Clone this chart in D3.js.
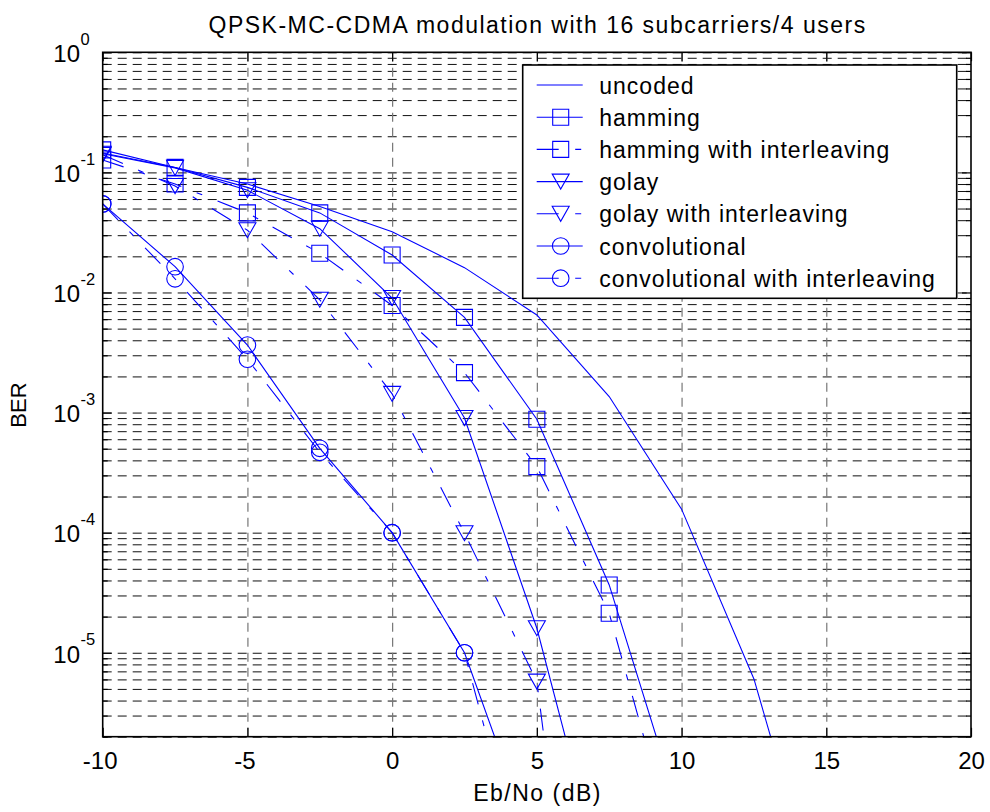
<!DOCTYPE html>
<html>
<head>
<meta charset="utf-8">
<script src="https://cdn.jsdelivr.net/npm/d3@7"></script>
<style>
  body { margin: 0; background: #fff; }
  svg { display: block; }
</style>
</head>
<body>
<div id="chart"></div>
<script>
// Chart data (BER)
const ebno = [-10, -7.5, -5, -2.5, 0, 2.5, 5, 7.5, 10, 12.5, 15];
const berUncoded    = [0.145, 0.11, 0.08, 0.052, 0.032, 0.0161, 0.0065, 0.00136, 1.57e-4, 6.05e-6, 5e-8];
const berHamming    = [0.154, 0.110, 0.075, 0.046, 0.0205, 0.0062, 8.8e-4, 3.67e-5, 4.2e-7];
const berHammingInt = [0.127, 0.080, 0.046, 0.0212, 0.0078, 0.00215, 3.55e-4, 2.13e-5, 1.5e-7];
const berGolay      = [0.143, 0.109, 0.071, 0.034, 0.0090, 9.0e-4, 1.6e-5, 8e-8];
const berGolayInt   = [0.140, 0.077, 0.033, 0.0087, 0.00143, 9.9e-5, 5.75e-6, 1.2e-10];
const berConv       = [0.0546, 0.0164, 3.65e-3, 5.04e-4, 1.0e-4, 1.0e-5, 2.1e-7];
const berConvInt    = [0.0546, 0.0130, 2.78e-3, 4.67e-4, 1.0e-4, 1.0e-5, 5.4e-8];

const seriesNames = ["uncoded", "hamming", "hamming with interleaving", "golay",
  "golay with interleaving", "convolutional", "convolutional with interleaving"];
const seriesMarkers = ["none", "square", "square", "triangle", "triangle", "circle", "circle"];
const seriesInterleaved = [false, false, true, false, true, false, true];

const xTicks = [-10, -5, 0, 5, 10, 15, 20];
const yExponents = [0, -1, -2, -3, -4, -5];
const yMinorMultipliers = [2, 3, 4, 5, 6, 7, 8, 9];

const titleText = "QPSK-MC-CDMA modulation with 16 subcarriers/4 users";
const xLabel = "Eb/No (dB)";
const yLabel = "BER";

const width = 990, height = 812;
const margin = {top: 52.3, right: 19, bottom: 75.3, left: 102.7};
const innerWidth = width - margin.left - margin.right;
const innerHeight = height - margin.top - margin.bottom;
const blue = "#0000ff";
const fontFamily = "'Liberation Sans', Arial, Helvetica, sans-serif";

const berSeries = [berUncoded, berHamming, berHammingInt, berGolay, berGolayInt, berConv, berConvInt];
const series = berSeries.map((vals, i) => ({
  name: seriesNames[i],
  marker: seriesMarkers[i],
  interleaved: seriesInterleaved[i],
  points: vals.map((v, j) => ({x: ebno[j], y: v}))
}));

/*****************************/
/*    Scales and containers  */
/*****************************/
const xScale = d3.scaleLinear().domain([-10, 20]).range([0, innerWidth]);
const yScale = d3.scaleLog().domain([2e-6, 1]).range([innerHeight, 0]);

const yMajor = yExponents.map(e => Math.pow(10, e));
const yMinor = [];
yExponents.concat([-6]).forEach(e => {
  yMinorMultipliers.forEach(m => {
    const v = m * Math.pow(10, e);
    if (v >= 2e-6 && v < 1) yMinor.push(v);
  });
});

const svg = d3.select("#chart")
  .append("svg")
    .attr("width", width)
    .attr("height", height)
    .attr("font-family", fontFamily);

svg.append("rect")
  .attr("width", width)
  .attr("height", height)
  .attr("fill", "#fff");

const innerChart = svg.append("g")
  .attr("transform", `translate(${margin.left}, ${margin.top})`);

svg.append("defs")
  .append("clipPath")
    .attr("id", "plot-clip")
  .append("rect")
    .attr("width", innerWidth)
    .attr("height", innerHeight);

// Stretch a text to the spacing seen in the original figure
const spaceOut = (sel, extra) => {
  sel.each(function() {
    const n = this.getNumberOfChars();
    const len = this.getComputedTextLength();
    d3.select(this)
      .attr("textLength", len + extra * (n - 1))
      .attr("lengthAdjust", "spacing");
  });
};

/***********************/
/*      Grid lines     */
/***********************/
const yGrid = innerChart.append("g")
  .attr("class", "grid-y")
  .call(d3.axisLeft(yScale).tickValues(yMajor.concat(yMinor)).tickSize(-innerWidth).tickFormat(""));
yGrid.select(".domain").remove();
yGrid.selectAll("text").remove();
yGrid.selectAll("line")
  .attr("stroke", "#111")
  .attr("stroke-width", 1)
  .attr("stroke-dasharray", "9,6");

const xGrid = innerChart.append("g")
  .attr("class", "grid-x")
  .attr("transform", `translate(0, ${innerHeight})`)
  .call(d3.axisBottom(xScale).tickValues(xTicks.slice(1, -1)).tickSize(-innerHeight).tickFormat(""));
xGrid.select(".domain").remove();
xGrid.selectAll("text").remove();
xGrid.selectAll("line")
  .attr("stroke", "#777")
  .attr("stroke-width", 1.2)
  .attr("stroke-dasharray", "9,6");

/***********************/
/*     Data curves     */
/***********************/
const lineGenerator = d3.line()
  .x(d => xScale(d.x))
  .y(d => yScale(d.y));

const markerPath = (type) => {
  switch (type) {
    case "square":
      return "M-8,-8H8V8H-8Z";
    case "triangle":
      return "M-8.5,-7.5L8.5,-7.5L0,7.5Z";
    case "circle":
      return "M8.3,0A8.3,8.3 0 1,1 -8.3,0A8.3,8.3 0 1,1 8.3,0Z";
    default:
      return null;
  }
};

const plot = innerChart.append("g")
  .attr("clip-path", "url(#plot-clip)");

series.forEach(s => {
  plot.append("path")
    .datum(s.points)
    .attr("d", lineGenerator)
    .attr("fill", "none")
    .attr("stroke", blue)
    .attr("stroke-width", 1.1)
    .attr("stroke-dasharray", s.interleaved ? "22,16.5,6,16.5" : null);

  if (s.marker !== "none") {
    plot.selectAll(null)
      .data(s.points.filter(d => d.y >= 2e-6))
      .join("path")
        .attr("transform", d => `translate(${xScale(d.x)}, ${yScale(d.y)})`)
        .attr("d", markerPath(s.marker))
        .attr("fill", "none")
        .attr("stroke", blue)
        .attr("stroke-width", 1.1);
  }
});

/***********************/
/*        Axes         */
/***********************/
const bottomAxis = innerChart.append("g")
  .attr("transform", `translate(0, ${innerHeight})`)
  .call(d3.axisBottom(xScale).tickValues(xTicks).tickSizeInner(-9).tickSizeOuter(0).tickPadding(15).tickFormat(d => String(d)));
const topAxis = innerChart.append("g")
  .call(d3.axisTop(xScale).tickValues(xTicks).tickSizeInner(-9).tickSizeOuter(0).tickFormat(""));

const leftMajor = innerChart.append("g")
  .call(d3.axisLeft(yScale).tickValues(yMajor).tickSizeInner(-9).tickSizeOuter(0).tickFormat(""));
const leftMinor = innerChart.append("g")
  .call(d3.axisLeft(yScale).tickValues(yMinor).tickSizeInner(-5).tickSizeOuter(0).tickFormat(""));
const rightMajor = innerChart.append("g")
  .attr("transform", `translate(${innerWidth}, 0)`)
  .call(d3.axisRight(yScale).tickValues(yMajor).tickSizeInner(-9).tickSizeOuter(0).tickFormat(""));
const rightMinor = innerChart.append("g")
  .attr("transform", `translate(${innerWidth}, 0)`)
  .call(d3.axisRight(yScale).tickValues(yMinor).tickSizeInner(-5).tickSizeOuter(0).tickFormat(""));

[bottomAxis, topAxis, leftMajor, leftMinor, rightMajor, rightMinor].forEach(ax => {
  ax.select(".domain").remove();
  ax.selectAll("line").attr("stroke", "#000").attr("stroke-width", 1.2);
  ax.attr("font-family", fontFamily).attr("font-size", 24);
});
[topAxis, leftMajor, leftMinor, rightMajor, rightMinor].forEach(ax => ax.selectAll("text").remove());
// negative labels sit a little left of their tick in the original
bottomAxis.selectAll("text")
  .attr("fill", "#000")
  .attr("dx", d => d < 0 ? -3 : 0);

// Log tick labels as 10 with a superscript exponent
const yLabels = innerChart.append("g")
  .attr("class", "y-tick-labels")
  .attr("font-size", 24)
  .attr("fill", "#000");
yExponents.forEach(e => {
  const yPos = yScale(Math.pow(10, e));
  yLabels.append("text")
    .attr("x", -22.7)
    .attr("y", yPos + 9.8)
    .attr("text-anchor", "end")
    .text("10");
  yLabels.append("text")
    .attr("x", -22.2)
    .attr("y", yPos - 7.5)
    .attr("font-size", 16.5)
    .text(e);
});

// Axes box
innerChart.append("rect")
  .attr("width", innerWidth)
  .attr("height", innerHeight)
  .attr("fill", "none")
  .attr("stroke", "#000")
  .attr("stroke-width", 1.6);

/***********************/
/*       Legend        */
/***********************/
const legend = svg.append("g")
  .attr("transform", "translate(522.7, 65)");
legend.append("rect")
  .attr("width", 434)
  .attr("height", 233.3)
  .attr("fill", "#fff")
  .attr("stroke", "#000")
  .attr("stroke-width", 1.6);

const legendRows = legend.selectAll(".legend-row")
  .data(series)
  .join("g")
    .attr("class", "legend-row")
    .attr("transform", (d, i) => `translate(0, ${20 + i * 32.2})`);
legendRows.append("line")
  .attr("x1", 14)
  .attr("x2", 60)
  .attr("stroke", blue)
  .attr("stroke-width", 1.1)
  .attr("stroke-dasharray", d => d.interleaved ? "22,16.5,6,16.5" : null);
legendRows.filter(d => d.marker !== "none")
  .append("path")
    .attr("transform", "translate(38, 0)")
    .attr("d", d => markerPath(d.marker))
    .attr("fill", "none")
    .attr("stroke", blue)
    .attr("stroke-width", 1.1);
legendRows.append("text")
  .attr("x", 76.6)
  .attr("y", 8.5)
  .attr("font-size", 23)
  .attr("fill", "#000")
  .text(d => d.name)
  .call(spaceOut, 1);

/***********************/
/*   Title and labels  */
/***********************/
svg.append("text")
  .attr("x", margin.left + innerWidth / 2)
  .attr("y", 33)
  .attr("text-anchor", "middle")
  .attr("font-size", 23)
  .text(titleText)
  .call(spaceOut, 1.5);

svg.append("text")
  .attr("x", margin.left + innerWidth / 2)
  .attr("y", 801)
  .attr("text-anchor", "middle")
  .attr("font-size", 23)
  .text(xLabel)
  .call(spaceOut, 1.5);

svg.append("text")
  .attr("transform", "translate(26, 405) rotate(-90)")
  .attr("text-anchor", "middle")
  .attr("font-size", 22)
  .text(yLabel);
</script>
</body>
</html>
